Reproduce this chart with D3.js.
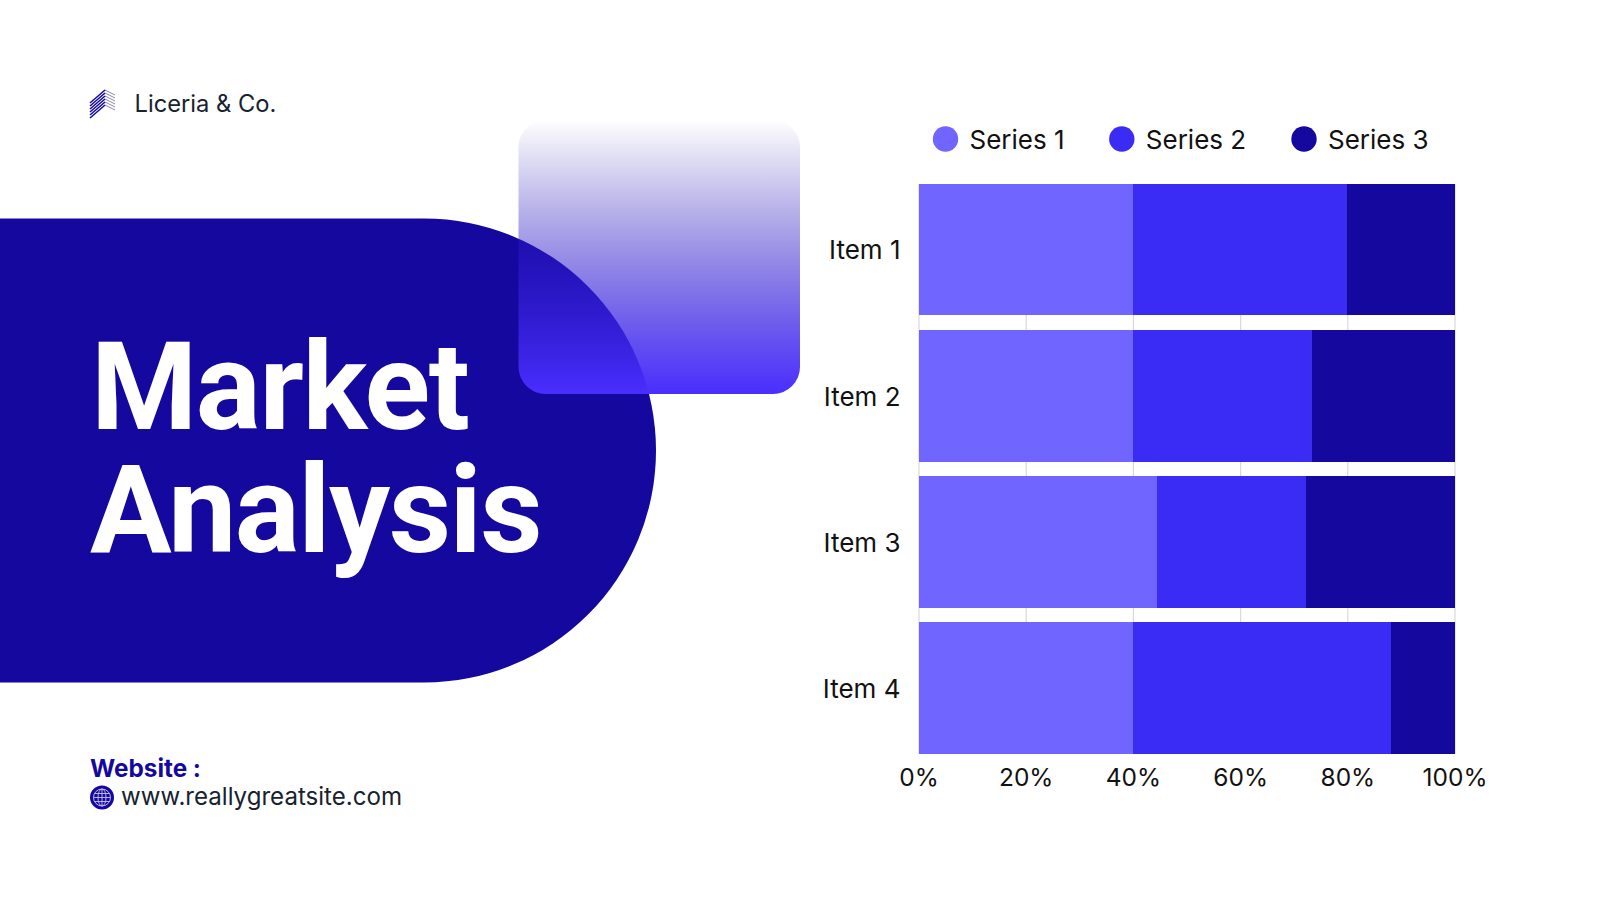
<!DOCTYPE html>
<html><head><meta charset="utf-8">
<script src="https://cdn.jsdelivr.net/npm/d3@7"></script>
<style>
html,body{margin:0;padding:0;background:#fff;width:1600px;height:900px;overflow:hidden}
svg{display:block}
text{font-family:Inter,"Noto Sans",sans-serif}
</style></head><body>
<svg id="c" width="1600" height="900"></svg>
<script>
const categories = ["Item 1","Item 2","Item 3","Item 4"];
const seriesNames = ["Series 1","Series 2","Series 3"];
const series1 = [40, 40, 44.5, 40];
const series2 = [40, 33.5, 27.8, 48.2];
const series3 = [20, 26.5, 27.7, 11.8];
const xTicks = [0, 20, 40, 60, 80, 100];
const colors = ["#7165ff", "#3a2cf4", "#14089e"];
const seriesValues = [series1, series2, series3];

const svg = d3.select("#c");
const defs = svg.append("defs");
const grad = defs.append("linearGradient").attr("id","fade").attr("x1",0).attr("y1",0).attr("x2",0).attr("y2",1);
grad.append("stop").attr("offset","0%").attr("stop-color","#14089e").attr("stop-opacity",0);
grad.append("stop").attr("offset","100%").attr("stop-color","#4a2eff").attr("stop-opacity",1);

// Title pill
svg.append("path").attr("fill","#14089e")
  .attr("d","M0,218.5 H424 A232,232 0 0 1 424,682.5 H0 Z");
svg.append("rect").attr("x",518.5).attr("y",120).attr("width",281.5).attr("height",274)
  .attr("rx",27).attr("fill","url(#fade)");

[["Market",91,429],["Analysis",90,552]].forEach(([t,tx,ty])=>{
  svg.append("text").attr("x",tx).attr("y",ty).attr("fill","#fff")
    .style("font-family","Roboto").style("font-weight",700).style("font-size","121.5px").style("letter-spacing","-1.5px").text(t);
});

// Brand logo
const logo = svg.append("g").attr("fill","none").attr("stroke-linecap","butt");
d3.range(6).forEach(i=>{
  logo.append("path").attr("stroke","#14089e").attr("stroke-width",1.5)
    .attr("d",`M90,${103+i*3} L105,${90+i*3}`);
  logo.append("path").attr("stroke","#55558f").attr("stroke-width",0.7)
    .attr("d",`M105,${90+i*3} L115,${95+i*3}`);
});

svg.append("text").attr("x",134.5).attr("y",112).attr("fill","#18222e")
  .style("font-size","23.7px").text("Liceria & Co.");

// Footer
svg.append("text").attr("x",90).attr("y",777).attr("fill","#14089e")
  .style("font-size","24.3px").style("font-weight",700).text("Website :");
const globe = svg.append("g").attr("transform","translate(102,797.5)");
globe.append("circle").attr("r",12).attr("fill","#14089e");
const gl = globe.append("g").attr("fill","none").attr("stroke","#c9c6ee").attr("stroke-width",0.9);
gl.append("circle").attr("r",8.5);
gl.append("ellipse").attr("rx",4).attr("ry",8.5);
gl.append("path").attr("d","M-8.5,0H8.5M0,-8.5V8.5M-7.5,-4H7.5M-7.5,4H7.5");
svg.append("text").attr("x",121).attr("y",805).attr("fill","#18222e")
  .style("font-size","24.1px").text("www.reallygreatsite.com");

// Chart
const x = d3.scaleLinear().domain([0,100]).range([918.5,1454.5]);
const y = d3.scaleBand().domain(categories).range([183.7,754]).paddingInner(0.1).paddingOuter(0);

const grid = svg.append("g").attr("transform","translate(0,754)")
  .call(d3.axisBottom(x).tickValues(xTicks).tickSize(-570.3).tickFormat(""));
grid.select(".domain").remove();
grid.selectAll("line").attr("stroke","#d9d9d9").attr("stroke-width",1.2);

const rows = categories.map((c,i)=>{
  const r={cat:c}; seriesNames.forEach((s,j)=>r[s]=seriesValues[j][i]); return r;
});
const stacked = d3.stack().keys(seriesNames)(rows);
svg.append("g").selectAll("g").data(stacked).join("g")
  .attr("fill",(d,i)=>colors[i])
  .attr("shape-rendering","crispEdges")
  .selectAll("rect").data(d=>d).join("rect")
  .attr("x",d=>x(d[0])).attr("width",d=>x(d[1])-x(d[0]))
  .attr("y",d=>y(d.data.cat)).attr("height",y.bandwidth());

const xa = svg.append("g").attr("transform","translate(0,754)")
  .call(d3.axisBottom(x).tickValues(xTicks).tickSize(0).tickPadding(15).tickFormat(d=>d+"%"));
xa.select(".domain").remove();
xa.selectAll("text").attr("fill","#111").style("font-size","24.5px").style("font-family","Inter");

const ya = svg.append("g").attr("transform","translate(918.5,1.5)")
  .call(d3.axisLeft(y).tickSize(0).tickPadding(18));
ya.select(".domain").remove();
ya.selectAll("text").attr("fill","#111").style("font-size","26px").style("font-family","Inter");

// Legend
const legendX = [945.5,1121.8,1304];
const lg = svg.append("g").selectAll("g").data(seriesNames).join("g")
  .attr("transform",(d,i)=>`translate(${legendX[i]},139)`);
lg.append("circle").attr("r",12.7).attr("fill",(d,i)=>colors[i]);
lg.append("text").attr("x",24).attr("y",10).attr("fill","#111").style("font-size","26px").text(d=>d);
</script>
</body></html>
